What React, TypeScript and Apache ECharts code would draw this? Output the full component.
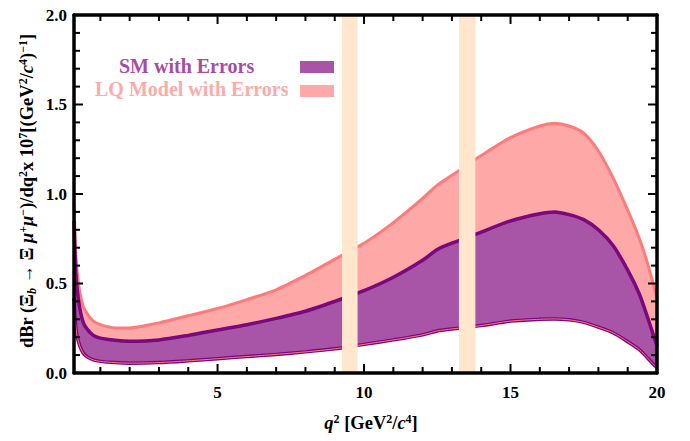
import React, { useEffect, useRef } from "react";
import * as echarts from "echarts";

// q^2 sample points [GeV^2/c^4]
const q2 = [0.1, 0.15, 0.2, 0.3, 0.42, 0.55, 0.76, 1.0, 1.5, 2.0, 3.0, 4.0, 5.0, 6.0, 7.0, 8.0, 9.0, 10.0, 11.0, 12.0, 12.5, 13.0, 14.0, 15.0, 16.0, 16.5, 17.0, 17.5, 18.0, 18.5, 19.0, 19.4, 19.7, 19.9, 20.0];
// LQ model upper edge
const lqUpper = [0.95, 0.7, 0.58, 0.45, 0.37, 0.33, 0.29, 0.27, 0.252, 0.252, 0.28, 0.32, 0.36, 0.41, 0.465, 0.545, 0.635, 0.725, 0.84, 0.975, 1.05, 1.105, 1.215, 1.315, 1.38, 1.395, 1.38, 1.34, 1.24, 1.09, 0.91, 0.75, 0.6, 0.48, 0.42];
// SM upper edge
const smUpper = [0.85, 0.6, 0.48, 0.36, 0.28, 0.245, 0.21, 0.195, 0.183, 0.178, 0.185, 0.21, 0.24, 0.27, 0.305, 0.345, 0.4, 0.46, 0.535, 0.63, 0.69, 0.725, 0.787, 0.85, 0.89, 0.9, 0.885, 0.857, 0.8, 0.712, 0.575, 0.44, 0.3, 0.2, 0.15];
// common lower edge (SM & LQ)
const lower = [0.42, 0.28, 0.21, 0.15, 0.11, 0.09, 0.073, 0.065, 0.058, 0.055, 0.058, 0.068, 0.08, 0.092, 0.104, 0.118, 0.135, 0.16, 0.185, 0.213, 0.235, 0.246, 0.265, 0.29, 0.3, 0.302, 0.297, 0.283, 0.256, 0.225, 0.175, 0.13, 0.08, 0.045, 0.03];
// charmonium veto bands [from, to]
const bands = [[9.25, 9.78], [13.24, 13.8]];
const xLabels = [5, 10, 15, 20];
const xMajorTicks = [5, 10, 15];
const xMinorTicks = [1, 2, 3, 4, 6, 7, 8, 9, 11, 12, 13, 14, 16, 17, 18, 19];
const yMajorTicks = [0.5, 1.0, 1.5];
const yMinorTicks = [0.1, 0.2, 0.3, 0.4, 0.6, 0.7, 0.8, 0.9, 1.1, 1.2, 1.3, 1.4, 1.6, 1.7, 1.8, 1.9];

const FONT = '"Liberation Serif", "Times New Roman", serif';
const PURPLE_FILL = "#a855a8";
const PINK_FILL = "#ffa8a8";
const PURPLE_LINE = "#7d077d";
const PINK_LINE = "#ff7b7b";
const BAND = "#ffe6cc";
const MAJOR_LEN = 9;
const MINOR_LEN = 6;

const pts = (ys: number[]) => q2.map((x, i) => [x, ys[i]]);

export default function App() {
  const ref = useRef<HTMLDivElement>(null);
  useEffect(() => {
    if (!ref.current) return;
    const chart = echarts.init(ref.current, null, { renderer: "svg" });
    const frame = () => ({ show: true, onZero: false, lineStyle: { color: "#000", width: 3.5 } });
    const labelStyle = {
      fontFamily: FONT,
      fontWeight: "bold" as const,
      fontSize: 17,
      color: "#000",
    };
    const sup = { fontFamily: FONT, fontWeight: "bold" as const, fontSize: 12, verticalAlign: "top" as const, lineHeight: 11 };
    const sub = { fontFamily: FONT, fontWeight: "bold" as const, fontSize: 12, verticalAlign: "bottom" as const, lineHeight: 9 };
    const it = { fontFamily: FONT, fontWeight: "bold" as const, fontStyle: "italic" as const, fontSize: 18.5, lineHeight: 21 };
    const base = { fontFamily: FONT, fontWeight: "bold" as const, fontSize: 18.5, lineHeight: 21 };

    const legendGraphics: any[] = [
      {
        type: "text", left: 119, top: 56, z: 20,
        style: { text: "SM with Errors", fontFamily: FONT, fontWeight: "bold", fontSize: 20, fill: "#a64ca6" },
      },
      {
        type: "text", left: 95, top: 79, z: 20,
        style: { text: "LQ Model with Errors", fontFamily: FONT, fontWeight: "bold", fontSize: 20, fill: "#ffaaaa" },
      },
      { type: "rect", shape: { x: 300, y: 61, width: 34, height: 12 }, style: { fill: PURPLE_FILL }, z: 20 },
      { type: "rect", shape: { x: 300, y: 85, width: 34, height: 12 }, style: { fill: PINK_FILL }, z: 20 },
      {
        type: "text", z: 20,
        x: 371, y: 423,
        style: {
          text: "{i|q}{s|2} [GeV{s|2}/{i|c}{s|4}]",
          ...base,
          fill: "#000",
          align: "center",
          verticalAlign: "middle",
          rich: { i: it, s: sup },
        },
      },
      {
        type: "text", z: 20,
        x: 27, y: 191, rotation: Math.PI / 2,
        style: {
          text: "dBr (Ξ{b|b} → Ξ {i|μ}{s|+}{i|μ}{s|−})/dq{s|2}x 10{s|7}[(GeV{s|2}/{i|c}{s|4}){s|−1}]",
          ...base,
          fill: "#000",
          align: "center",
          verticalAlign: "middle",
          rich: { i: it, s: sup, b: { ...sub, fontStyle: "italic" } },
        },
      },
    ];

    chart.setOption({
      animation: false,
      grid: { left: 74, right: 33, top: 15, bottom: 68 },
      xAxis: [
        {
          type: "value", min: 0.1, max: 20, z: 10, position: "bottom",
          splitLine: { show: false },
          axisLine: frame(),
          axisTick: { show: false },
          axisLabel: { ...labelStyle, margin: 11, customValues: xLabels, formatter: (v: number) => String(v) },
        },
        {
          type: "value", min: 0.1, max: 20, z: 10, position: "top",
          splitLine: { show: false },
          axisLine: frame(),
          axisTick: { show: false },
          axisLabel: { show: false },
        },
      ],
      yAxis: [
        {
          type: "value", min: 0, max: 2, interval: 0.5, z: 10, position: "left",
          splitLine: { show: false },
          axisLine: frame(),
          axisTick: { show: false },
          axisLabel: { ...labelStyle, margin: 7, formatter: (v: number) => v.toFixed(1) },
        },
        {
          type: "value", min: 0, max: 2, interval: 0.5, z: 10, position: "right",
          splitLine: { show: false },
          axisLine: frame(),
          axisTick: { show: false },
          axisLabel: { show: false },
        },
      ],
      series: [
        {
          type: "line", data: pts(lqUpper), smooth: 0.25, symbol: "none", z: 2,
          lineStyle: { width: 0 }, areaStyle: { color: PINK_FILL, opacity: 1 },
        },
        {
          type: "line", data: pts(smUpper), smooth: 0.25, symbol: "none", z: 3,
          lineStyle: { width: 0 }, areaStyle: { color: PURPLE_FILL, opacity: 1 },
        },
        {
          type: "line", data: pts(lower), smooth: 0.25, symbol: "none", z: 4,
          lineStyle: { width: 0 }, areaStyle: { color: "#fff", opacity: 1 },
        },
        {
          type: "line", data: pts(lqUpper), smooth: 0.25, symbol: "none", z: 5,
          lineStyle: { width: 3, color: PINK_LINE },
        },
        {
          type: "line", data: pts(smUpper), smooth: 0.25, symbol: "none", z: 5,
          lineStyle: { width: 3.5, color: PURPLE_LINE },
        },
        {
          type: "line", data: pts(lower), smooth: 0.25, symbol: "none", z: 5,
          lineStyle: { width: 3.5, color: PURPLE_LINE },
        },
        {
          type: "line", data: pts(lower), smooth: 0.25, symbol: "none", z: 6,
          lineStyle: { width: 1, color: PINK_LINE },
        },
        {
          type: "custom",
          z: 8,
          data: bands,
          encode: { x: [0, 1] },
          renderItem: (params: any, api: any) => {
            const x0 = api.coord([api.value(0), 0])[0];
            const x1 = api.coord([api.value(1), 0])[0];
            const cs = params.coordSys;
            return {
              type: "rect",
              shape: { x: x0, y: cs.y, width: x1 - x0, height: cs.height },
              style: { fill: BAND },
            };
          },
        },
      ],
      graphic: legendGraphics,
    });

    // inside ticks on all four sides, as filled rects placed through the chart's own scales
    const px = (x: number, y: number) => chart.convertToPixel({ gridIndex: 0 }, [x, y]) as number[];
    const yBottom = px(10, 0)[1];
    const yTop = px(10, 2)[1];
    const xLeft = px(0.1, 1)[0];
    const xRight = px(20, 1)[0];
    const tickEls: any[] = [];
    const addX = (v: number, len: number) => {
      const x = px(v, 0)[0];
      tickEls.push({ type: "rect", z: 30, silent: true, shape: { x: x - 1, y: yBottom - len, width: 2, height: len }, style: { fill: "#000" } });
      tickEls.push({ type: "rect", z: 30, silent: true, shape: { x: x - 1, y: yTop, width: 2, height: len }, style: { fill: "#000" } });
    };
    const addY = (v: number, len: number) => {
      const y = px(10, v)[1];
      tickEls.push({ type: "rect", z: 30, silent: true, shape: { x: xLeft, y: y - 1, width: len, height: 2 }, style: { fill: "#000" } });
      tickEls.push({ type: "rect", z: 30, silent: true, shape: { x: xRight - len, y: y - 1, width: len, height: 2 }, style: { fill: "#000" } });
    };
    xMajorTicks.forEach((v) => addX(v, MAJOR_LEN));
    xMinorTicks.forEach((v) => addX(v, MINOR_LEN));
    yMajorTicks.forEach((v) => addY(v, MAJOR_LEN));
    yMinorTicks.forEach((v) => addY(v, MINOR_LEN));
    chart.setOption({ graphic: [...legendGraphics, ...tickEls] });

    return () => chart.dispose();
  }, []);
  return (
    <div
      ref={ref}
      style={{ position: "fixed", left: 0, top: 0, width: 690, height: 441, background: "#fff" }}
    />
  );
}
